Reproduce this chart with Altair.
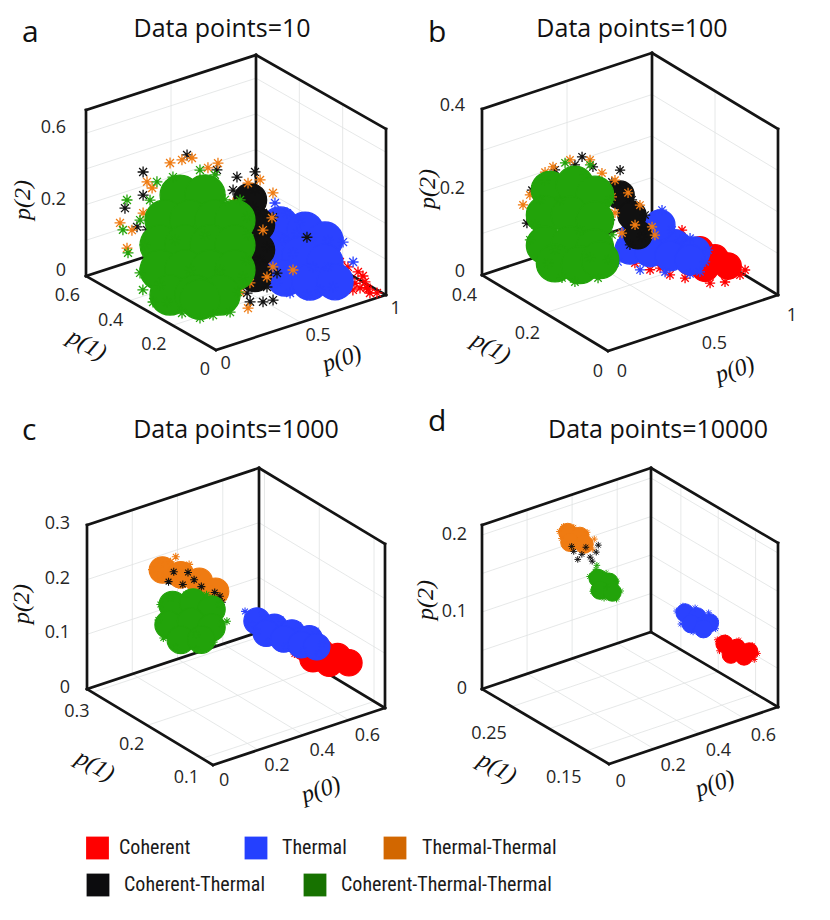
import altair as alt
import pandas as pd

# ---------------------------------------------------------------- data
SERIES = ["Coherent", "Thermal", "Thermal-Thermal", "Coherent-Thermal",
          "Coherent-Thermal-Thermal"]
PANELS = ["a", "b", "c", "d"]
TITLES = ["Data points=10", "Data points=100", "Data points=1000", "Data points=10000"]

# axis ranges (p0, p1, p2) per panel
P0_RANGE = [(0, 1), (0, 1), (0, 0.76), (0, 0.75)]
P1_RANGE = [(0, 0.6), (0, 0.4), (0.08, 0.31), (0.12, 0.29)]
P2_RANGE = [(0, 0.465), (0, 0.4), (0, 0.3), (0, 0.213)]

P0_TICKS = [[0, 0.5, 1], [0, 0.5, 1], [0, 0.2, 0.4, 0.6], [0, 0.2, 0.4, 0.6]]
P0_LABELS = [["0", "0.5", "1"], ["0", "0.5", "1"], ["0", "0.2", "0.4", "0.6"],
             ["0", "0.2", "0.4", "0.6"]]
P1_TICKS = [[0, 0.2, 0.4, 0.6], [0, 0.2, 0.4], [0.1, 0.2, 0.3], [0.15, 0.2, 0.25]]
P1_LABELS = [["0", "0.2", "0.4", "0.6"], ["0", "0.2", "0.4"], ["0.1", "0.2", "0.3"],
             ["0.15", "", "0.25"]]
P2_TICKS = [[0, 0.1, 0.2, 0.3, 0.4], [0, 0.1, 0.2, 0.3, 0.4], [0, 0.1, 0.2, 0.3],
            [0, 0.05, 0.1, 0.15, 0.2]]
P2_LABELS = [["0", "", "0.2", "", "0.6"], ["0", "", "0.2", "", "0.4"],
             ["0", "0.1", "0.2", "0.3"], ["0", "", "0.1", "", "0.2"]]

# ---- panel a (points are (p0, p1, p2))
a_red = [(0.609, 0.15, 0.21), (0.827, 0.1, 0.118), (0.775, 0.05, 0.096), (0.84, 0.05, 0.086),
         (0.899, 0.05, 0.063), (0.793, 0.05, 0.065), (0.852, 0.05, 0.042), (0.902, 0.02, 0.045),
         (0.869, 0.05, 0.017), (0.931, 0.02, 0.009), (0.947, 0, 0.014), (0.78, 0.1, 0.117),
         (0.881, 0.05, 0.034), (0.92, 0.02, 0.022), (0.822, 0.05, 0.075), (0.911, 0.05, 0.016),
         (0.95, 0.05, 0.011), (0.793, 0.05, 0.107), (0.928, 0.05, 0.047)]
a_red_core = []
a_blue = [(0.538, 0.15, 0.277), (0.609, 0.15, 0.238), (0.491, 0.15, 0.245), (0.685, 0.15, 0.201),
          (0.756, 0.15, 0.148), (0.85, 0.15, 0.125), (0.875, 0.1, 0.133), (0.934, 0.1, 0.068),
          (0.496, 0.2, 0.143), (0.531, 0.2, 0.082), (0.55, 0.15, 0.051), (0.563, 0.1, 0.038),
          (0.663, 0.1, 0.017), (0.739, 0.1, 0.02), (0.816, 0.1, 0.016), (0.41, 0.2, 0.055),
          (0.762, 0.15, 0.063), (0.644, 0.15, 0.121), (0.786, 0.1, 0.077), (0.668, 0.15, 0.173),
          (0.579, 0.15, 0.167)]
a_blue_core = [(0.568, 0.15, 0.211), (0.715, 0.15, 0.174), (0.832, 0.15, 0.128),
               (0.538, 0.15, 0.145), (0.685, 0.15, 0.109), (0.832, 0.15, 0.066),
               (0.597, 0.15, 0.058), (0.744, 0.15, 0.024), (0.828, 0.1, 0.029)]
a_orange = [(0.112, 0.3, 0.403), (0.182, 0.3, 0.401), (0.241, 0.3, 0.397), (0.394, 0.3, 0.359),
            (0.335, 0.3, 0.355), (0.104, 0.4, 0.317), (0.134, 0.4, 0.295), (0.009, 0.45, 0.199),
            (0.079, 0.45, 0.168), (0.05, 0.45, 0.122), (0.507, 0.25, 0.303), (0.578, 0.25, 0.301),
            (0.59, 0.2, 0.28), (0.419, 0.25, 0.261), (0.584, 0.2, 0.211), (0.531, 0.2, 0.185),
            (0.526, 0.15, 0.1), (0.491, 0.15, 0.077), (0.391, 0.15, 0.076), (0.252, 0.05, 0.061),
            (0.269, 0.1, 0.087), (0.644, 0.15, 0.073), (0.388, 0.3, 0.276), (0.288, 0.3, 0.328),
            (0.433, 0.2, 0.125), (0.081, 0.4, 0.233)]
a_orange_core = []
a_black = [(0.212, 0.3, 0.41), (0.081, 0.4, 0.348), (0.081, 0.4, 0.283), (0.038, 0.45, 0.236),
           (0.045, 0.4, 0.2), (0.104, 0.4, 0.182), (0.212, 0.3, 0.334), (0.388, 0.3, 0.341),
           (0.442, 0.25, 0.33), (0.548, 0.25, 0.328), (0.419, 0.25, 0.297), (0.536, 0.25, 0.232),
           (0.595, 0.25, 0.206), (0.59, 0.2, 0.212), (0.56, 0.25, 0.155), (0.555, 0.2, 0.134),
           (0.578, 0.25, 0.077), (0.55, 0.15, 0.079), (0.491, 0.15, 0.049), (0.328, 0.1, 0.05),
           (0.404, 0.1, 0.038), (0.463, 0.1, 0.034), (0.79, 0.2, 0.125), (0.134, 0.1, 0.065),
           (0.374, 0.15, 0.05), (0.419, 0.25, 0.25), (0.46, 0.25, 0.115), (0.548, 0.25, 0.278)]
a_black_core = [(0.566, 0.25, 0.177), (0.566, 0.25, 0.107), (0.548, 0.25, 0.039),
                (0.519, 0.25, 0.254)]
a_green = [(0.05, 0.45, 0.257), (0.026, 0.45, 0.177), (0.056, 0.45, 0.108), (0.063, 0.4, 0.068),
           (0.016, 0.35, 0.045), (0.012, 0.3, 0.029), (0.031, 0.25, 0.043), (0.055, 0.2, 0.026),
           (0.097, 0.15, 0.023), (0.174, 0.15, 0.019), (0.274, 0.15, 0.012), (0.035, 0.3, 0.362),
           (0.129, 0.3, 0.361), (0.288, 0.3, 0.356), (0.376, 0.3, 0.329), (0.058, 0.35, 0.29),
           (0.524, 0.3, 0.236), (0.565, 0.3, 0.182), (0.571, 0.3, 0.131), (0.559, 0.3, 0.062),
           (0.414, 0.2, 0.071), (0.321, 0.15, 0.061), (0.063, 0.4, 0.216), (0.092, 0.4, 0.142),
           (0.435, 0.3, 0.25), (0.141, 0.3, 0.183), (0.318, 0.3, 0.169), (0.166, 0.25, 0.112),
           (0.342, 0.25, 0.085), (0.053, 0.3, 0.07)]
a_green_core = [(0.171, 0.3, 0.304), (0.318, 0.3, 0.282), (0.082, 0.3, 0.248), (0.229, 0.3, 0.225),
                (0.376, 0.3, 0.203), (0.494, 0.3, 0.184), (0.053, 0.3, 0.182), (0.2, 0.3, 0.160),
                (0.347, 0.3, 0.137), (0.494, 0.3, 0.114), (0.053, 0.3, 0.112), (0.2, 0.3, 0.090),
                (0.347, 0.3, 0.067), (0.494, 0.3, 0.044), (0.048, 0.25, 0.06), (0.131, 0.2, 0.065),
                (0.215, 0.15, 0.069), (0.097, 0.15, 0.075)]

# ---- panel b
b_red = [(0.528, 0.05, 0.197), (0.251, 0.05, 0.155), (0.34, 0.05, 0.127), (0.457, 0.05, 0.099),
         (0.84, 0.05, 0.071), (0.869, 0.05, 0.043), (0.781, 0.05, 0.038), (0.693, 0.05, 0.047),
         (0.604, 0.05, 0.139), (0.704, 0.05, 0.121), (0.81, 0.05, 0.082), (0.546, 0.05, 0.079),
         (0.899, 0.05, 0.051), (0.399, 0.05, 0.123)]
b_red_core = [(0.634, 0.05, 0.135), (0.722, 0.05, 0.104), (0.799, 0.05, 0.074),
              (0.663, 0.05, 0.087), (0.575, 0.05, 0.114)]
b_blue = [(0.503, 0.1, 0.226), (0.268, 0.1, 0.186), (0.244, 0.1, 0.136), (0.374, 0.1, 0.099),
          (0.521, 0.1, 0.074), (0.668, 0.1, 0.05), (0.756, 0.1, 0.067), (0.774, 0.1, 0.093),
          (0.668, 0.1, 0.136), (0.562, 0.1, 0.17), (0.403, 0.1, 0.211), (0.303, 0.1, 0.205),
          (0.726, 0.1, 0.047), (0.609, 0.1, 0.14)]
b_blue_core = [(0.344, 0.1, 0.187), (0.462, 0.1, 0.159), (0.579, 0.1, 0.132), (0.697, 0.1, 0.099),
               (0.315, 0.1, 0.157), (0.432, 0.1, 0.135), (0.55, 0.1, 0.109), (0.668, 0.1, 0.084),
               (0.491, 0.1, 0.192)]
b_orange = [(0.056, 0.3, 0.207), (0.047, 0.2, 0.346), (0.335, 0.2, 0.292), (0.301, 0.15, 0.262),
            (0.319, 0.15, 0.221), (0.396, 0.15, 0.259), (0.537, 0.15, 0.158), (0.36, 0.15, 0.167),
            (0.004, 0.25, 0.261), (0.147, 0.2, 0.349), (0.466, 0.15, 0.22), (0.26, 0.15, 0.152),
            (0.437, 0.15, 0.176), (0.093, 0.25, 0.304), (0.319, 0.15, 0.3), (0.265, 0.2, 0.333),
            (0.554, 0.15, 0.136)]
b_orange_core = []
b_black = [(0.218, 0.2, 0.347), (0.282, 0.2, 0.314), (0.301, 0.15, 0.298), (0.366, 0.15, 0.277),
           (0.419, 0.15, 0.239), (0.478, 0.15, 0.158), (0.478, 0.15, 0.141), (0.016, 0.25, 0.271),
           (0.079, 0.3, 0.16), (0.022, 0.25, 0.222), (0.176, 0.2, 0.333), (0.496, 0.15, 0.192),
           (0.407, 0.15, 0.132), (0.059, 0.2, 0.337), (0.349, 0.15, 0.32), (0.29, 0.15, 0.208)]
b_black_core = [(0.349, 0.15, 0.26), (0.419, 0.15, 0.202), (0.454, 0.15, 0.15)]
b_green = [(0.1, 0.2, 0.071), (0.312, 0.2, 0.042), (0.018, 0.2, 0.118), (0.004, 0.25, 0.153),
           (0.118, 0.2, 0.346), (0.063, 0.25, 0.241), (0.034, 0.25, 0.185), (0.265, 0.2, 0.321),
           (0.382, 0.2, 0.221), (0.394, 0.2, 0.135), (0.371, 0.2, 0.078), (0.176, 0.2, 0.051),
           (0.093, 0.25, 0.285), (0.235, 0.2, 0.301), (0.088, 0.2, 0.26), (0.206, 0.2, 0.172),
           (0.059, 0.2, 0.144), (0.265, 0.2, 0.097)]
b_green_core = [(0.122, 0.25, 0.257), (0.176, 0.2, 0.285), (0.294, 0.2, 0.245),
                (0.093, 0.25, 0.201), (0.147, 0.2, 0.216), (0.294, 0.2, 0.184),
                (0.093, 0.25, 0.128), (0.147, 0.2, 0.144), (0.294, 0.2, 0.117),
                (0.059, 0.2, 0.112), (0.206, 0.2, 0.088), (0.324, 0.2, 0.084)]

# ---- panel c
c_red = [(0.399, 0.1, 0.154), (0.444, 0.1, 0.155), (0.526, 0.1, 0.137), (0.603, 0.1, 0.118),
         (0.671, 0.1, 0.094), (0.685, 0.1, 0.074), (0.626, 0.1, 0.076), (0.544, 0.1, 0.091),
         (0.467, 0.1, 0.11), (0.408, 0.1, 0.135)]
c_red_core = [(0.454, 0.1, 0.141), (0.526, 0.1, 0.122), (0.599, 0.1, 0.104), (0.649, 0.1, 0.086),
              (0.49, 0.1, 0.115), (0.562, 0.1, 0.097)]
c_blue = [(0.311, 0.15, 0.196), (0.341, 0.15, 0.168), (0.387, 0.15, 0.182), (0.468, 0.15, 0.16),
          (0.546, 0.15, 0.139), (0.623, 0.15, 0.118), (0.65, 0.15, 0.09), (0.636, 0.15, 0.074),
          (0.568, 0.15, 0.089), (0.491, 0.15, 0.108), (0.414, 0.15, 0.127), (0.364, 0.15, 0.152)]
c_blue_core = [(0.364, 0.15, 0.171), (0.441, 0.15, 0.149), (0.518, 0.15, 0.128),
               (0.595, 0.15, 0.107), (0.405, 0.15, 0.143), (0.482, 0.15, 0.122),
               (0.559, 0.15, 0.101), (0.628, 0.15, 0.088)]
c_orange = [(0.021, 0.2, 0.282), (0.058, 0.2, 0.286), (0.103, 0.2, 0.285), (0.126, 0.2, 0.291),
            (0.126, 0.2, 0.264), (0.08, 0.2, 0.259), (0.171, 0.2, 0.258), (0.216, 0.2, 0.246),
            (0.139, 0.2, 0.238), (0.239, 0.2, 0.225), (0.284, 0.2, 0.21), (0.339, 0.2, 0.188),
            (0.194, 0.2, 0.213), (0.058, 0.2, 0.267), (0.185, 0.2, 0.269)]
c_orange_core = [(0.067, 0.2, 0.275), (0.148, 0.2, 0.255), (0.23, 0.2, 0.232), (0.302, 0.2, 0.204)]
c_black = [(0.117, 0.2, 0.265), (0.18, 0.2, 0.255), (0.239, 0.2, 0.221), (0.298, 0.2, 0.202),
           (0.321, 0.2, 0.192), (0.239, 0.2, 0.197), (0.284, 0.2, 0.186), (0.157, 0.2, 0.236),
           (0.207, 0.2, 0.238), (0.094, 0.2, 0.25), (0.33, 0.2, 0.18)]
c_black_core = []
c_green = [(0.058, 0.2, 0.213), (0.049, 0.2, 0.186), (0.071, 0.2, 0.15), (0.126, 0.2, 0.125),
           (0.216, 0.2, 0.109), (0.293, 0.2, 0.112), (0.33, 0.2, 0.14), (0.321, 0.2, 0.177),
           (0.262, 0.2, 0.203), (0.171, 0.2, 0.216), (0.103, 0.2, 0.219), (0.352, 0.2, 0.142),
           (0.216, 0.2, 0.136)]
c_green_core = [(0.112, 0.2, 0.205), (0.203, 0.2, 0.197), (0.284, 0.2, 0.173), (0.094, 0.2, 0.171),
                (0.194, 0.2, 0.163), (0.284, 0.2, 0.14), (0.148, 0.2, 0.136), (0.239, 0.2, 0.124)]

# ---- panel d
d_red = [(0.58, 0.15, 0.0869), (0.617, 0.15, 0.0858), (0.676, 0.15, 0.0764), (0.735, 0.15, 0.0642),
         (0.758, 0.15, 0.0516), (0.744, 0.15, 0.0451), (0.69, 0.15, 0.049), (0.626, 0.15, 0.0578),
         (0.59, 0.15, 0.0716), (0.653, 0.15, 0.0656)]
d_red_core = [(0.612, 0.15, 0.0786), (0.667, 0.15, 0.068), (0.722, 0.15, 0.0577),
              (0.64, 0.15, 0.0616), (0.699, 0.15, 0.0534)]
d_blue = [(0.466, 0.17, 0.124), (0.494, 0.17, 0.1277), (0.548, 0.17, 0.12), (0.608, 0.17, 0.1077),
          (0.639, 0.17, 0.0944), (0.639, 0.17, 0.084), (0.594, 0.17, 0.0818), (0.539, 0.17, 0.0897),
          (0.485, 0.17, 0.1053), (0.567, 0.17, 0.1012)]
d_blue_core = [(0.503, 0.17, 0.118), (0.557, 0.17, 0.1075), (0.612, 0.17, 0.0944),
               (0.53, 0.17, 0.101), (0.585, 0.17, 0.0892)]
d_orange = [(0.244, 0.26, 0.1977), (0.262, 0.26, 0.2025), (0.308, 0.26, 0.1968),
            (0.367, 0.26, 0.1845), (0.399, 0.26, 0.1725), (0.39, 0.26, 0.1603),
            (0.335, 0.26, 0.1656), (0.276, 0.26, 0.1778), (0.253, 0.26, 0.1878),
            (0.322, 0.26, 0.1773)]
d_orange_core = [(0.281, 0.26, 0.1929), (0.335, 0.26, 0.1825), (0.29, 0.26, 0.179),
                 (0.354, 0.26, 0.1703)]
d_black = [(0.291, 0.255, 0.1701), (0.327, 0.255, 0.1627), (0.364, 0.255, 0.1553),
           (0.391, 0.255, 0.1592), (0.4, 0.255, 0.1674), (0.345, 0.255, 0.1701),
           (0.309, 0.255, 0.1579), (0.373, 0.255, 0.1492), (0.282, 0.255, 0.1774)]
d_black_core = []
d_green = [(0.312, 0.24, 0.144), (0.34, 0.24, 0.1505), (0.385, 0.24, 0.141), (0.431, 0.24, 0.1262),
           (0.449, 0.24, 0.1116), (0.431, 0.24, 0.1029), (0.376, 0.24, 0.1095),
           (0.326, 0.24, 0.1234), (0.344, 0.24, 0.1553), (0.39, 0.24, 0.1223)]
d_green_core = [(0.349, 0.24, 0.138), (0.399, 0.24, 0.128), (0.358, 0.24, 0.1216),
                (0.412, 0.24, 0.1138)]

CLOUDS = {
    "a": [(a_red, a_red_core), (a_blue, a_blue_core), (a_orange, a_orange_core),
          (a_black, a_black_core), (a_green, a_green_core)],
    "b": [(b_red, b_red_core), (b_blue, b_blue_core), (b_orange, b_orange_core),
          (b_black, b_black_core), (b_green, b_green_core)],
    "c": [(c_red, c_red_core), (c_blue, c_blue_core), (c_orange, c_orange_core),
          (c_black, c_black_core), (c_green, c_green_core)],
    "d": [(d_red, d_red_core), (d_blue, d_blue_core), (d_orange, d_orange_core),
          (d_black, d_black_core), (d_green, d_green_core)],
}

# ---------------------------------------------------------------- styles / layout
PLOT_COLORS = ["#ff0000", "#2b42ff", "#ef7b12", "#111111", "#22a30a"]
LEGEND_COLORS = ["#ff0000", "#2440ff", "#d26700", "#0c0c0e", "#177200"]
DRAW_ORDER = {
    "a": ["Coherent", "Thermal", "Coherent-Thermal", "Thermal-Thermal", "Coherent-Thermal-Thermal"],
    "b": ["Coherent", "Thermal", "Coherent-Thermal", "Thermal-Thermal", "Coherent-Thermal-Thermal"],
    "c": ["Coherent", "Thermal", "Thermal-Thermal", "Coherent-Thermal", "Coherent-Thermal-Thermal"],
    "d": ["Coherent", "Thermal", "Thermal-Thermal", "Coherent-Thermal", "Coherent-Thermal-Thermal"],
}
# vega symbol size = (diameter)^2 ; one entry per series in SERIES order
CORE_SIZE = {"a": [1000, 1300, 1000, 1100, 1600], "b": [700, 900, 900, 800, 1400],
             "c": [700, 700, 700, 700, 750], "d": [300, 330, 330, 300, 330]}
STAR_SIZE = {"a": 120, "b": 105, "c": 64, "d": 44}
STAR_WIDTH = {"a": 1.3, "b": 1.3, "c": 1.1, "d": 1.0}
ASTER = "M-1,0L1,0M0,-1L0,1M-0.72,-0.72L0.72,0.72M-0.72,0.72L0.72,-0.72"

# 3-D box projection, page pixels
PROJ_ORIGIN = [(216, 350), (608, 351), (213, 765), (609, 764)]
PROJ_E0 = [(170, -55), (170, -56), (172, -57), (169, -57)]
PROJ_E1 = [(-130, -74), (-126, -76), (-126, -76), (-127, -75)]
PROJ_H = [166, 166, 164, 164]
LABEL_OFF = {
    "p0": [(4.5, 13.5), (8.7, 20.7), (6, 16), (6.5, 17.5)],
    "p1": [(-6, 20), (-5, 21), (-3, 20), (-5, 27)],
    "p2": [(-20, -5), (-17, -3), (-17, -1), (-15, 0)],
}
TITLE_POS = [(222, 37), (632, 37), (236, 438), (658, 438)]
LETTER_POS = [(22, 42), (428, 42), (22, 440), (428, 431)]
P2_TITLE_POS = [(23, 200), (428, 189), (22, 604), (426, 600)]
P1_TITLE_POS = [(87, 345), (491, 348), (95, 766), (497, 768)]
P0_TITLE_POS = [(342, 359), (735, 370), (321, 790), (715, 784)]
LEGEND_SQ = [(97.5, 848), (256, 848), (395, 848), (98, 885), (315, 885)]
LEGEND_TX = [(119, 848), (282, 848), (422, 848), (124, 885), (341, 885)]

W, H = 814, 904
XS = alt.Scale(domain=[8, 8 + W], nice=False, zero=False)
YS = alt.Scale(domain=[8, 8 + H], nice=False, zero=False, reverse=True)


def X(f):
    return alt.X(f"{f}:Q", scale=XS, axis=None)


def Y(f):
    return alt.Y(f"{f}:Q", scale=YS, axis=None)


PROJ_DF = pd.DataFrame({
    "panel": PANELS,
    "ox": [o[0] for o in PROJ_ORIGIN], "oy": [o[1] for o in PROJ_ORIGIN],
    "e0x": [e[0] for e in PROJ_E0], "e0y": [e[1] for e in PROJ_E0],
    "e1x": [e[0] for e in PROJ_E1], "e1y": [e[1] for e in PROJ_E1],
    "h": PROJ_H,
    "lo0": [r[0] for r in P0_RANGE], "hi0": [r[1] for r in P0_RANGE],
    "lo1": [r[0] for r in P1_RANGE], "hi1": [r[1] for r in P1_RANGE],
    "lo2": [r[0] for r in P2_RANGE], "hi2": [r[1] for r in P2_RANGE],
})


def proj_expr(a0, a1, a2):
    n0 = f"((datum.{a0}-datum.lo0)/(datum.hi0-datum.lo0))"
    n1 = f"((datum.{a1}-datum.lo1)/(datum.hi1-datum.lo1))"
    n2 = f"((datum.{a2}-datum.lo2)/(datum.hi2-datum.lo2))"
    u = f"datum.ox+datum.e0x*{n0}+datum.e1x*{n1}"
    v = f"datum.oy+datum.e0y*{n0}+datum.e1y*{n1}-datum.h*{n2}"
    return u, v


# ---- points
rows = []
for panel in PANELS:
    for si, (stars, core) in enumerate(CLOUDS[panel]):
        name = SERIES[si]
        rank = DRAW_ORDER[panel].index(name)
        for (p0, p1, p2) in core:
            rows.append(dict(panel=panel, series=name, p0=p0, p1=p1, p2=p2,
                             z=rank * 2, shp="circle", sz=CORE_SIZE[panel][si],
                             sw=STAR_WIDTH[panel]))
        for (p0, p1, p2) in stars:
            rows.append(dict(panel=panel, series=name, p0=p0, p1=p1, p2=p2,
                             z=rank * 2 + 1, shp=ASTER, sz=STAR_SIZE[panel],
                             sw=STAR_WIDTH[panel]))
pts = pd.DataFrame(rows).merge(PROJ_DF, on="panel")
pts = pts.sort_values(["panel", "z"]).reset_index(drop=True)

# ---- grid lines and box edges
grid_rows, box_rows = [], []
for i, panel in enumerate(PANELS):
    lo0, hi0 = P0_RANGE[i]
    lo1, hi1 = P1_RANGE[i]
    lo2, hi2 = P2_RANGE[i]
    segs = []
    for t in P0_TICKS[i]:
        segs.append(((t, lo1, lo2), (t, hi1, lo2)))
        segs.append(((t, hi1, lo2), (t, hi1, hi2)))
    for t in P1_TICKS[i]:
        segs.append(((lo0, t, lo2), (hi0, t, lo2)))
        segs.append(((hi0, t, lo2), (hi0, t, hi2)))
    for t in P2_TICKS[i]:
        segs.append(((lo0, hi1, t), (hi0, hi1, t)))
        segs.append(((hi0, lo1, t), (hi0, hi1, t)))
    for a, b in segs:
        grid_rows.append(dict(panel=panel, a0=a[0], a1=a[1], a2=a[2], b0=b[0], b1=b[1], b2=b[2]))
    edges = [((lo0, lo1, lo2), (hi0, lo1, lo2)), ((lo0, lo1, lo2), (lo0, hi1, lo2)),
             ((hi0, lo1, lo2), (hi0, hi1, lo2)), ((lo0, hi1, lo2), (hi0, hi1, lo2)),
             ((lo0, hi1, lo2), (lo0, hi1, hi2)), ((hi0, hi1, lo2), (hi0, hi1, hi2)),
             ((hi0, lo1, lo2), (hi0, lo1, hi2)), ((lo0, hi1, hi2), (hi0, hi1, hi2)),
             ((hi0, hi1, hi2), (hi0, lo1, hi2))]
    for a, b in edges:
        box_rows.append(dict(panel=panel, a0=a[0], a1=a[1], a2=a[2], b0=b[0], b1=b[1], b2=b[2]))
grid_df = pd.DataFrame(grid_rows).merge(PROJ_DF, on="panel")
box_df = pd.DataFrame(box_rows).merge(PROJ_DF, on="panel")

# ---- tick labels
lab_rows = []
for i, panel in enumerate(PANELS):
    lo0, hi0 = P0_RANGE[i]
    lo1, hi1 = P1_RANGE[i]
    lo2, hi2 = P2_RANGE[i]
    for t, s in zip(P0_TICKS[i], P0_LABELS[i]):
        dx, dy = LABEL_OFF["p0"][i]
        lab_rows.append(dict(panel=panel, axis="p0", p0=t, p1=lo1, p2=lo2, text=s, dx=dx, dy=dy))
    for t, s in zip(P1_TICKS[i], P1_LABELS[i]):
        dx, dy = LABEL_OFF["p1"][i]
        lab_rows.append(dict(panel=panel, axis="p1", p0=lo0, p1=t, p2=lo2, text=s, dx=dx, dy=dy))
    for t, s in zip(P2_TICKS[i], P2_LABELS[i]):
        dx, dy = LABEL_OFF["p2"][i]
        lab_rows.append(dict(panel=panel, axis="p2", p0=lo0, p1=hi1, p2=t, text=s, dx=dx, dy=dy))
lab_df = pd.DataFrame(lab_rows).merge(PROJ_DF, on="panel")
lab_df = lab_df[lab_df["text"] != ""]

ua, va = proj_expr("a0", "a1", "a2")
ub, vb = proj_expr("b0", "b1", "b2")
up, vp = proj_expr("p0", "p1", "p2")

grid = alt.Chart(grid_df).transform_calculate(ua=ua, va=va, ub=ub, vb=vb).mark_rule(
    color="#dfe2e2", strokeWidth=0.8).encode(x=X("ua"), y=Y("va"), x2="ub:Q", y2="vb:Q")
box = alt.Chart(box_df).transform_calculate(ua=ua, va=va, ub=ub, vb=vb).mark_rule(
    color="#141414", strokeWidth=2.7, strokeCap="square").encode(
    x=X("ua"), y=Y("va"), x2="ub:Q", y2="vb:Q")

cscale = alt.Scale(domain=SERIES, range=PLOT_COLORS)
clouds = alt.Chart(pts).transform_calculate(u=up, v=vp).mark_point(
    filled=True, opacity=1).encode(
    x=X("u"), y=Y("v"),
    fill=alt.Fill("series:N", scale=cscale, legend=None),
    stroke=alt.Stroke("series:N", scale=cscale, legend=None),
    shape=alt.Shape("shp:N", scale=None),
    size=alt.Size("sz:Q", scale=None),
    strokeWidth=alt.StrokeWidth("sw:Q", scale=None),
    order=alt.Order("z:Q"),
)

TICK_FONT = "Open Sans"
labels_left = alt.Chart(lab_df).transform_filter(alt.datum.axis == "p0").transform_calculate(
    u=f"{up}+datum.dx", v=f"{vp}+datum.dy").mark_text(
    align="left", baseline="middle", font=TICK_FONT, fontSize=18, color="#262626").encode(
    x=X("u"), y=Y("v"), text="text:N")
labels_right = alt.Chart(lab_df).transform_filter(alt.datum.axis != "p0").transform_calculate(
    u=f"{up}+datum.dx", v=f"{vp}+datum.dy").mark_text(
    align="right", baseline="middle", font=TICK_FONT, fontSize=18, color="#262626").encode(
    x=X("u"), y=Y("v"), text="text:N")

titles_df = pd.DataFrame({"x": [p[0] for p in TITLE_POS], "y": [p[1] for p in TITLE_POS],
                          "text": TITLES})
titles = alt.Chart(titles_df).mark_text(
    align="center", baseline="alphabetic", font="Open Sans", fontSize=25, color="#111111").encode(
    x=X("x"), y=Y("y"), text="text:N")
letters_df = pd.DataFrame({"x": [p[0] for p in LETTER_POS], "y": [p[1] for p in LETTER_POS],
                           "text": PANELS})
letters = alt.Chart(letters_df).mark_text(
    align="left", baseline="alphabetic", font="Open Sans", fontSize=30, color="#111111").encode(
    x=X("x"), y=Y("y"), text="text:N")


def axis_title(pos, txt, angle):
    df = pd.DataFrame({"x": [p[0] for p in pos], "y": [p[1] for p in pos], "text": [txt] * len(pos)})
    return alt.Chart(df).mark_text(
        align="center", baseline="middle", font="Liberation Serif", fontStyle="italic",
        fontSize=24, angle=angle, color="#111111").encode(x=X("x"), y=Y("y"), text="text:N")


t2 = axis_title(P2_TITLE_POS, "p(2)", 270)
t1 = axis_title(P1_TITLE_POS, "p(1)", 30)
t0 = axis_title(P0_TITLE_POS, "p(0)", 342)

leg_df = pd.DataFrame({"sx": [p[0] for p in LEGEND_SQ], "sy": [p[1] for p in LEGEND_SQ],
                       "tx": [p[0] for p in LEGEND_TX], "ty": [p[1] for p in LEGEND_TX],
                       "series": SERIES})
leg_sq = alt.Chart(leg_df).mark_point(shape="square", filled=True, opacity=1, size=520).encode(
    x=X("sx"), y=Y("sy"),
    fill=alt.Fill("series:N", scale=alt.Scale(domain=SERIES, range=LEGEND_COLORS), legend=None))
leg_tx = alt.Chart(leg_df).mark_text(
    align="left", baseline="middle",
    font="Liberation Sans Narrow, Arial Narrow, Roboto Condensed, Roboto, sans-serif",
    fontSize=20, fontWeight="normal", color="#1a1a1a").encode(
    x=X("tx"), y=Y("ty"), text="series:N")

chart = alt.layer(
    grid, box, clouds, labels_left, labels_right, titles, letters, t2, t1, t0, leg_sq, leg_tx
).resolve_scale(fill="independent").properties(
    width=W, height=H, padding=0, background="white"
).configure_view(stroke=None)

chart.save("out.html", embed_options={"renderer": "svg", "actions": False})
